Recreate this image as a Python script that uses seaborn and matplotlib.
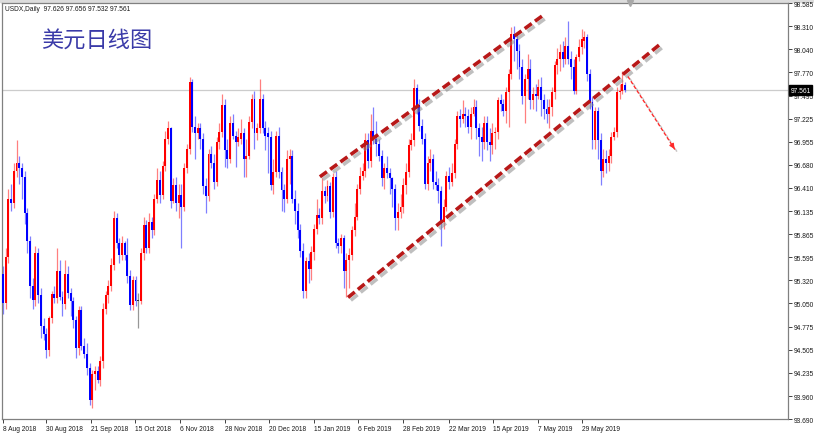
import numpy as np
import pandas as pd
import matplotlib
matplotlib.use('Agg')
import matplotlib.pyplot as plt
import matplotlib.patheffects as pe
import matplotlib.transforms as mtrans
from matplotlib.patches import Rectangle
import seaborn as sns

# daily USDX bars, 8 Aug 2018 .. mid June 2019
opens = [95.40, 95.05, 95.60, 96.28, 96.23, 96.61, 96.70, 96.64, 96.54, 96.11,
         95.78, 95.25, 95.09, 95.64, 95.15, 94.78, 94.69, 94.50, 94.88, 95.16,
         95.11, 95.43, 95.13, 95.04, 95.40, 95.17, 95.08, 94.85, 94.52, 94.97,
         94.55, 94.45, 94.29, 93.91, 94.22, 94.25, 94.15, 94.37, 94.99, 95.15,
         95.26, 95.50, 96.05, 95.76, 95.62, 95.76, 95.62, 95.37, 95.03, 95.32,
         95.08, 95.08, 95.64, 95.97, 95.70, 96.01, 95.91, 96.28, 96.50, 96.32,
         96.67, 96.99, 97.11, 96.26, 96.44, 96.23, 96.32, 96.19, 96.64, 96.87,
         97.66, 97.13, 97.05, 97.11, 96.99, 96.43, 96.31, 96.81, 96.70, 96.48,
         96.95, 97.07, 97.38, 96.85, 96.75, 97.17, 97.02, 96.95, 96.99, 97.05,
         96.75, 96.79, 97.19, 97.46, 97.05, 97.11, 97.46, 97.11, 97.05, 97.01,
         96.44, 96.60, 97.02, 96.60, 96.38, 96.28, 96.75, 96.78, 96.28, 96.14,
         95.91, 95.67, 95.20, 95.55, 95.46, 95.66, 95.93, 96.09, 96.06, 96.37,
         96.31, 96.43, 96.13, 96.54, 95.76, 95.73, 95.82, 95.43, 95.56, 95.62,
         95.91, 96.07, 96.40, 96.55, 96.61, 96.97, 96.73, 97.08, 96.99, 96.93,
         96.78, 96.52, 96.64, 96.58, 96.52, 96.40, 96.05, 96.13, 96.19, 96.44,
         96.60, 96.91, 96.97, 97.58, 97.38, 97.14, 96.99, 96.46, 96.70, 96.75,
         96.48, 96.44, 96.37, 96.01, 96.19, 96.55, 96.48, 96.58, 96.93, 97.25,
         97.22, 97.28, 97.25, 97.13, 97.28, 97.36, 97.11, 97.01, 96.95, 97.17,
         96.95, 96.91, 97.05, 97.07, 97.44, 97.40, 97.31, 97.54, 97.75, 98.22,
         98.16, 98.02, 97.83, 97.49, 97.69, 97.81, 97.44, 97.52, 97.49, 97.60,
         97.44, 97.34, 97.28, 97.36, 97.54, 97.85, 97.93, 98.01, 97.93, 98.08,
         97.93, 97.83, 97.55, 97.95, 98.07, 98.14, 98.19, 97.75, 97.42, 96.97,
         97.32, 96.97, 96.61, 96.75, 96.70, 96.78, 97.01, 97.07, 97.54, 97.55, 97.626]

highs = [95.49, 95.70, 96.40, 96.46, 96.70, 96.97, 96.78, 96.70, 96.61, 96.17,
         95.84, 95.35, 95.72, 95.70, 95.23, 94.88, 94.76, 94.90, 95.20, 95.25,
         95.70, 95.56, 95.20, 95.56, 95.49, 95.23, 95.13, 94.90, 95.02, 95.02,
         94.64, 94.58, 94.35, 94.27, 94.31, 94.31, 94.43, 95.05, 95.20, 95.32,
         95.58, 96.14, 96.11, 95.82, 95.84, 95.79, 95.82, 95.44, 95.37, 95.37,
         95.17, 95.70, 96.07, 96.03, 96.11, 96.07, 96.34, 96.64, 96.61, 96.73,
         97.08, 97.20, 97.13, 96.52, 96.54, 96.46, 96.46, 96.70, 96.93, 97.72,
         97.69, 97.25, 97.17, 97.17, 97.05, 96.52, 96.87, 96.90, 96.81, 97.01,
         97.17, 97.52, 97.46, 96.99, 97.25, 97.28, 97.08, 97.11, 97.22, 97.11,
         96.99, 97.25, 97.52, 97.55, 97.17, 97.69, 97.52, 97.20, 97.13, 97.08,
         96.75, 97.08, 97.13, 96.66, 96.46, 96.85, 96.87, 96.85, 96.38, 96.23,
         95.99, 95.76, 95.60, 95.64, 95.72, 95.99, 96.28, 96.17, 96.52, 96.43,
         96.50, 96.48, 96.58, 96.61, 95.82, 95.87, 95.86, 95.64, 95.70, 95.96,
         96.23, 96.46, 96.66, 96.70, 97.05, 97.05, 97.28, 97.36, 97.20, 96.99,
         96.85, 96.70, 96.78, 96.64, 96.54, 96.46, 96.23, 96.34, 96.52, 96.70,
         96.99, 97.05, 97.69, 97.63, 97.46, 97.22, 97.05, 96.78, 96.87, 96.81,
         96.61, 96.52, 96.43, 96.28, 96.61, 96.66, 96.70, 96.99, 97.32, 97.34,
         97.44, 97.36, 97.34, 97.36, 97.46, 97.44, 97.17, 97.13, 97.25, 97.25,
         97.11, 97.17, 97.13, 97.48, 97.52, 97.46, 97.60, 97.81, 98.30, 98.32,
         98.22, 98.10, 97.93, 97.75, 97.99, 97.93, 97.60, 97.63, 97.69, 97.72,
         97.52, 97.46, 97.46, 97.60, 97.90, 98.05, 98.10, 98.14, 98.19, 98.37,
         98.02, 97.93, 97.99, 98.16, 98.28, 98.26, 98.22, 97.81, 97.48, 97.36,
         97.36, 97.05, 96.87, 96.85, 96.87, 97.07, 97.13, 97.60, 97.63, 97.78, 97.656]

lows = [94.93, 94.99, 95.52, 96.14, 96.17, 96.54, 96.46, 96.28, 95.99, 95.64,
        95.11, 94.99, 95.02, 95.05, 94.64, 94.62, 94.41, 94.43, 94.82, 95.05,
        95.05, 95.09, 94.90, 94.99, 95.11, 94.90, 94.76, 94.41, 94.44, 94.50,
        94.41, 94.21, 93.85, 93.82, 94.03, 94.11, 94.08, 94.29, 94.93, 95.05,
        95.20, 95.44, 95.70, 95.52, 95.56, 95.56, 95.29, 94.97, 94.97, 95.02,
        94.76, 95.04, 95.56, 95.64, 95.64, 95.82, 95.86, 96.23, 96.23, 96.28,
        96.61, 96.93, 96.17, 96.23, 96.14, 96.05, 95.70, 96.14, 96.58, 96.81,
        97.07, 96.75, 96.99, 96.87, 96.34, 96.11, 96.25, 96.64, 96.40, 96.43,
        96.87, 97.01, 96.66, 96.64, 96.70, 96.99, 96.66, 96.90, 96.93, 96.54,
        96.54, 96.75, 97.11, 96.87, 96.97, 97.05, 97.05, 96.85, 96.58, 96.38,
        96.34, 96.54, 96.52, 96.14, 96.13, 96.23, 96.46, 96.23, 95.99, 95.82,
        95.60, 95.11, 95.11, 95.29, 95.32, 95.56, 95.87, 95.99, 95.99, 96.23,
        96.26, 96.05, 96.07, 95.70, 95.64, 95.64, 95.23, 95.13, 95.23, 95.56,
        95.84, 96.03, 96.34, 96.50, 96.54, 96.64, 96.66, 96.93, 96.78, 96.72,
        96.43, 96.40, 96.52, 96.34, 96.19, 95.91, 95.91, 96.05, 96.11, 96.34,
        96.54, 96.85, 96.90, 97.28, 97.08, 96.93, 96.40, 96.38, 96.61, 96.40,
        96.38, 96.23, 95.72, 95.93, 96.14, 96.40, 96.43, 96.52, 96.87, 97.13,
        97.17, 97.13, 97.05, 96.99, 97.25, 96.99, 96.78, 96.73, 96.87, 96.85,
        96.73, 96.81, 96.87, 96.99, 97.32, 97.25, 97.17, 97.13, 97.69, 97.90,
        97.81, 97.69, 97.40, 97.17, 97.46, 97.34, 97.34, 97.32, 97.46, 97.25,
        97.22, 97.17, 97.11, 97.25, 97.46, 97.75, 97.79, 97.83, 97.87, 97.87,
        97.69, 97.52, 97.52, 97.90, 97.99, 98.05, 97.67, 97.34, 96.87, 96.87,
        96.75, 96.44, 96.54, 96.58, 96.61, 96.70, 96.97, 97.01, 97.46, 97.52, 97.532]

closes = [95.05, 95.60, 96.28, 96.23, 96.61, 96.70, 96.64, 96.54, 96.11, 95.78,
          95.25, 95.09, 95.64, 95.15, 94.78, 94.69, 94.50, 94.88, 95.16, 95.11,
          95.43, 95.13, 95.04, 95.40, 95.17, 95.08, 94.85, 94.52, 94.97, 94.55,
          94.45, 94.29, 93.91, 94.22, 94.25, 94.15, 94.37, 94.99, 95.15, 95.26,
          95.50, 96.05, 95.76, 95.62, 95.76, 95.62, 95.37, 95.03, 95.32, 95.08,
          95.08, 95.64, 95.97, 95.70, 96.01, 95.91, 96.28, 96.50, 96.32, 96.67,
          96.99, 97.11, 96.26, 96.44, 96.23, 96.32, 96.19, 96.64, 96.87, 97.66,
          97.13, 97.05, 97.11, 96.99, 96.43, 96.31, 96.81, 96.70, 96.48, 96.95,
          97.07, 97.38, 96.85, 96.75, 97.17, 97.02, 96.95, 97.01, 97.05, 96.75,
          96.79, 97.19, 97.46, 97.05, 97.11, 97.46, 97.11, 97.02, 97.01, 96.44,
          96.60, 97.02, 96.60, 96.38, 96.28, 96.75, 96.78, 96.28, 96.14, 95.91,
          95.67, 95.20, 95.55, 95.46, 95.66, 95.93, 96.09, 96.06, 96.37, 96.31,
          96.43, 96.13, 96.54, 95.76, 95.73, 95.82, 95.43, 95.56, 95.62, 95.91,
          96.07, 96.40, 96.55, 96.61, 96.97, 96.73, 97.08, 96.99, 96.93, 96.78,
          96.52, 96.64, 96.58, 96.52, 96.40, 96.05, 96.13, 96.19, 96.44, 96.60,
          96.91, 96.97, 97.58, 97.38, 97.14, 96.99, 96.46, 96.70, 96.75, 96.48,
          96.44, 96.37, 96.01, 96.19, 96.55, 96.48, 96.58, 96.93, 97.25, 97.22,
          97.28, 97.25, 97.13, 97.28, 97.36, 97.11, 97.01, 96.95, 97.17, 96.95,
          96.91, 97.05, 97.07, 97.44, 97.40, 97.31, 97.54, 97.75, 98.22, 98.16,
          98.02, 97.83, 97.49, 97.69, 97.81, 97.44, 97.52, 97.49, 97.60, 97.44,
          97.34, 97.28, 97.36, 97.54, 97.85, 97.93, 98.01, 97.93, 98.08, 97.93,
          97.83, 97.55, 97.95, 98.07, 98.16, 98.19, 97.75, 97.42, 96.97, 97.32,
          96.97, 96.61, 96.75, 96.70, 96.78, 97.01, 97.07, 97.54, 97.55, 97.63, 97.561]

date_labels = ['8 Aug 2018', '30 Aug 2018', '21 Sep 2018', '15 Oct 2018', '6 Nov 2018',
               '28 Nov 2018', '20 Dec 2018', '15 Jan 2019', '6 Feb 2019', '28 Feb 2019',
               '22 Mar 2019', '15 Apr 2019', '7 May 2019', '29 May 2019']
date_pos = [0, 15.8, 32.4, 48.8, 65.5, 82.1, 98.4, 115.0, 131.3, 147.9,
            164.9, 181.2, 197.9, 214.1]
price_ticks = [98.585, 98.310, 98.040, 97.770, 97.495, 97.225, 96.955, 96.680, 96.410,
               96.135, 95.865, 95.595, 95.320, 95.050, 94.775, 94.505, 94.235, 93.960, 93.690]
last_price = 97.561

# hand-drawn channel and arrow (bar index, price)
upper_x, upper_y = [117.2, 199.3], [96.54, 98.43]
lower_x, lower_y = [127.6, 243.0], [95.12, 98.10]
arrow_x, arrow_y = [231.1, 248.9], [97.72, 96.84]

sns.set_style('white')
plt.rcParams['font.family'] = ['Liberation Sans', 'DejaVu Sans']
small = 4.8

df = pd.DataFrame({'open': opens, 'high': highs, 'low': lows, 'close': closes})
df['idx'] = np.arange(len(df))
df['color'] = np.where(df['close'] > df['open'], '#ff0000',
                       np.where(df['close'] < df['open'], '#0000ff', '#303030'))
body = df['close'] - df['open']
body = body.where(body.abs() > 0.004, 0.012)

fig = plt.figure(figsize=(8.14, 4.35), dpi=100)
# thin grey window strip above the chart, kept under everything
fig.patches.append(Rectangle((0, 1 - 3 / 435), 1, 3 / 435, transform=fig.transFigure,
                             color='#dcdcdc', zorder=-5))
ax = fig.add_axes([2 / 814, 15 / 435, 786 / 814, 416 / 435])

ax.axhline(last_price, color='#cccccc', lw=0.9, zorder=0)
ax.vlines(df['idx'], df['low'], df['high'], colors=df['color'], lw=0.9, alpha=0.5, zorder=2)
ax.bar(df['idx'], body, bottom=df['open'], width=0.72, color=df['color'], lw=0, zorder=3)

shadow = [pe.SimpleLineShadow(offset=(2, -2), shadow_color='#8c8c8c', alpha=0.55), pe.Normal()]
for xs, ys in ((upper_x, upper_y), (lower_x, lower_y)):
    ax.plot(xs, ys, color='#b81818', lw=2.6, dashes=(2.4, 1.1), path_effects=shadow, zorder=5)

thin_shadow = [pe.SimpleLineShadow(offset=(1.5, -1.5), shadow_color='#8c8c8c', alpha=0.5), pe.Normal()]
ax.plot(arrow_x, arrow_y, color='#ff2a2a', lw=1.0, dashes=(2.5, 1.5), path_effects=thin_shadow, zorder=5)
tail_x = arrow_x[1] - 0.12 * (arrow_x[1] - arrow_x[0])
tail_y = arrow_y[1] - 0.12 * (arrow_y[1] - arrow_y[0])
ax.annotate('', xy=(arrow_x[1], arrow_y[1]), xytext=(tail_x, tail_y),
            arrowprops=dict(arrowstyle='-|>', color='#ff2a2a', lw=1.0, mutation_scale=7),
            zorder=6)

ax.set_xlim(-0.37, 290.3)
ax.set_ylim(93.69, 98.585)

ax.set_xticks(date_pos)
ax.set_xticklabels(date_labels, ha='left', fontsize=small, color='#1a1a1a')
ax.tick_params(axis='x', length=3, width=0.7, pad=1, color='#404040', bottom=True)
ax.yaxis.tick_right()
ax.set_yticks(price_ticks)
ax.set_yticklabels([f'{v:.3f}' for v in price_ticks], fontsize=small, color='#1a1a1a')
ax.tick_params(axis='y', length=3, width=0.7, pad=1.2, color='#404040', right=True)

for side, sp in ax.spines.items():
    sp.set_visible(True)
    sp.set_color('#808080')
    sp.set_linewidth(0.9)

blend = mtrans.blended_transform_factory(ax.transAxes, ax.transData)
ax.text(1.003, last_price, f'{last_price:.3f}', transform=blend, color='white', fontsize=small,
        va='center', ha='left', zorder=10,
        bbox=dict(boxstyle='square,pad=0.2', fc='black', ec='black'))

ax.plot([231.9], [98.585], marker='v', color='#a8a8a8', markersize=4, clip_on=False, zorder=10)

ax.text(0.004, 0.987, 'USDX,Daily  97.626 97.656 97.532 97.561', transform=ax.transAxes,
        fontsize=small, color='#1a1a1a', va='center', ha='left')
ax.text(0.0496, 0.911, '美元日线图', transform=ax.transAxes, fontsize=16, color='#3a3aa8',
        va='center', ha='left', family=['Noto Sans CJK SC', 'DejaVu Sans'])

fig.savefig('out.png', dpi=100, facecolor='white')
